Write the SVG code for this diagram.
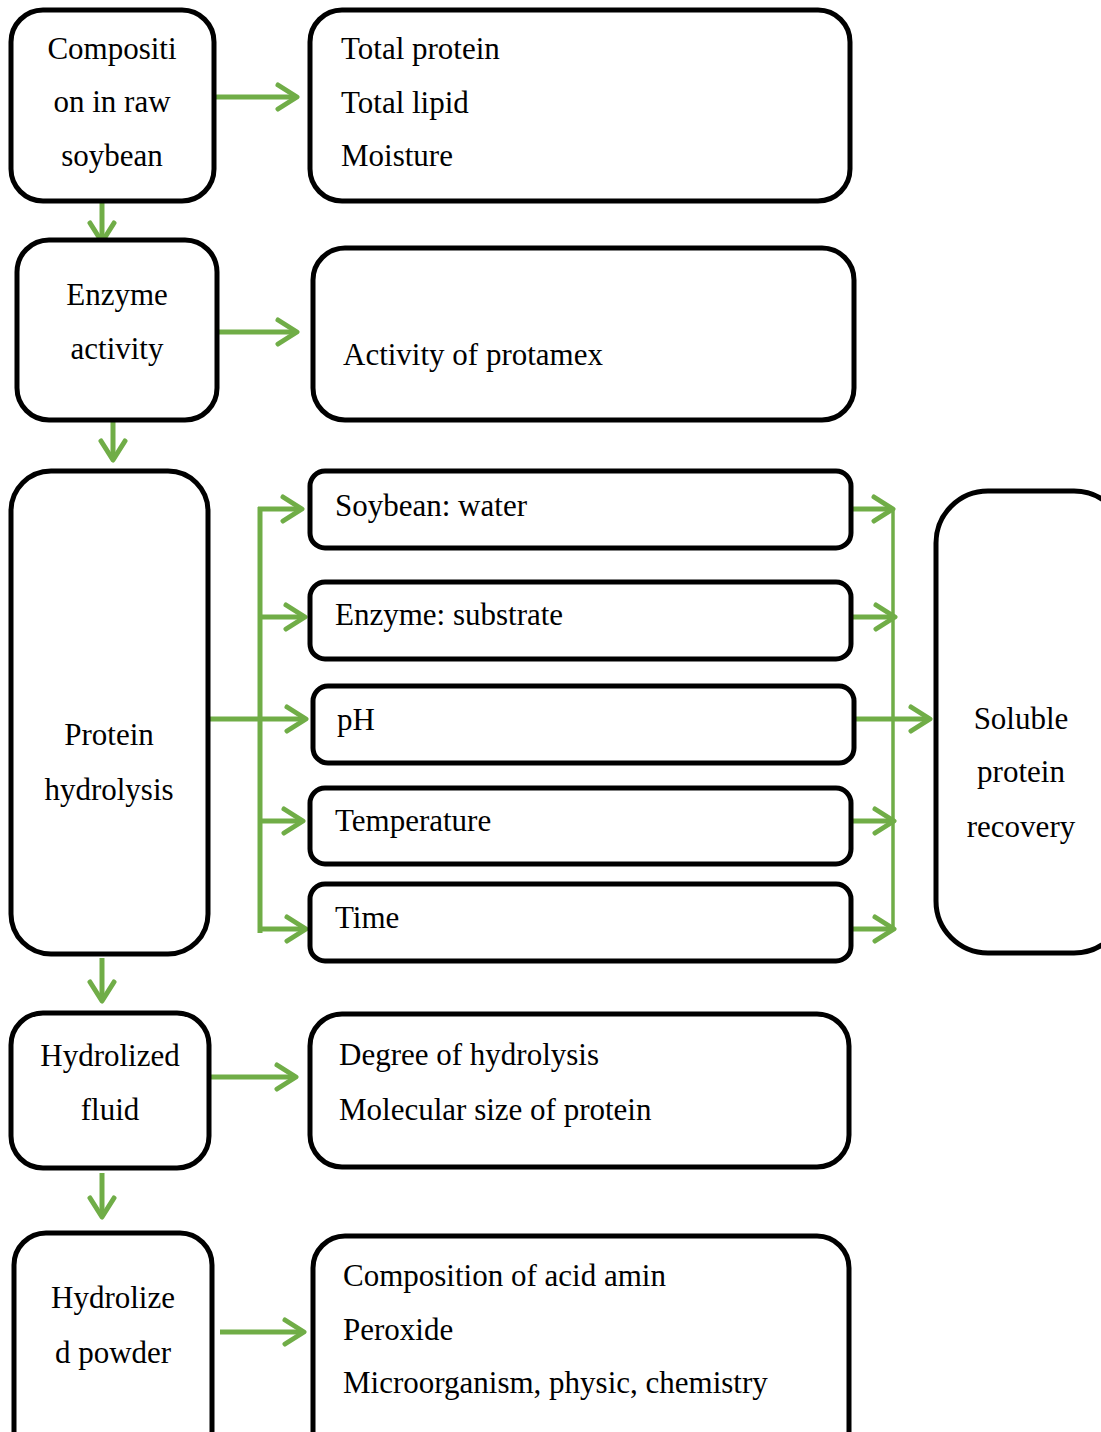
<svg xmlns="http://www.w3.org/2000/svg" width="1101" height="1432" viewBox="0 0 1101 1432">
<style>
.box{fill:#fff;stroke:#000;stroke-width:5}
.t{font-family:"Liberation Serif","Times New Roman",serif;font-size:31px;fill:#000}
.c{text-anchor:middle}
.ln{stroke:#70AD47;stroke-width:5;fill:none}
.thin{stroke:#70AD47;stroke-width:3.5;fill:none}
.ar{stroke:#70AD47;stroke-width:5;fill:none;marker-end:url(#ah)}
</style>
<defs>
<marker id="ah" markerUnits="userSpaceOnUse" viewBox="-24 -16 28 32" refX="0" refY="0" markerWidth="28" markerHeight="32" orient="auto">
<path d="M-19,-12 L0,0 L-19,12" fill="none" stroke="#70AD47" stroke-width="5" stroke-linecap="round" stroke-linejoin="round"/>
</marker>
</defs>
<rect width="1101" height="1432" fill="#fff"/>
<g id="connectors">
<line class="ar" x1="214" y1="97" x2="297" y2="97"/>
<line class="ar" x1="102" y1="201" x2="102" y2="242"/>
<line class="ar" x1="217" y1="332" x2="297" y2="332"/>
<line class="ar" x1="113" y1="420" x2="113" y2="460"/>
<line class="ar" x1="208" y1="719" x2="306" y2="719"/>
<line class="ln" x1="260" y1="507" x2="260" y2="933"/>
<line class="ar" x1="258" y1="509" x2="302" y2="509"/>
<line class="ar" x1="260" y1="617" x2="305" y2="617"/>
<line class="ar" x1="260" y1="821" x2="303" y2="821"/>
<line class="ar" x1="258" y1="929" x2="306" y2="929"/>
<line class="ln" x1="851" y1="509" x2="892" y2="509"/>
<line class="ln" x1="851" y1="617" x2="895" y2="617"/>
<line class="ln" x1="851" y1="821" x2="894" y2="821"/>
<line class="ln" x1="851" y1="929" x2="894" y2="929"/>
<line class="ar" x1="854" y1="719" x2="930" y2="719"/>
<line class="thin" x1="893" y1="509" x2="893" y2="929"/>
<line class="ar" x1="102" y1="958" x2="102" y2="1001"/>
<line class="ar" x1="209" y1="1077" x2="296" y2="1077"/>
<line class="ar" x1="102" y1="1173" x2="102" y2="1217"/>
<line class="ar" x1="220" y1="1332" x2="304" y2="1332"/>
<g id="right-heads" fill="none" stroke="#70AD47" stroke-width="5" stroke-linecap="round" stroke-linejoin="round">
<path d="M874,497 L893,509 L874,521"/>
<path d="M876,605 L895,617 L876,629"/>
<path d="M875,809 L894,821 L875,833"/>
<path d="M875,917 L894,929 L875,941"/>
</g>
</g>
<g id="n1"><rect class="box" x="11" y="10" width="203" height="191" rx="32"/>
<text class="t c" x="112" y="59">Compositi</text><text class="t c" x="112" y="112">on in raw</text><text class="t c" x="112" y="166">soybean</text></g>
<g id="n2"><rect class="box" x="310" y="10" width="540" height="191" rx="32"/>
<text class="t" x="341" y="59">Total protein</text><text class="t" x="341" y="113">Total lipid</text><text class="t" x="341" y="166">Moisture</text></g>
<g id="n3"><rect class="box" x="17" y="240" width="200" height="180" rx="32"/>
<text class="t c" x="117" y="305">Enzyme</text><text class="t c" x="117" y="359">activity</text></g>
<g id="n4"><rect class="box" x="313" y="248" width="541" height="172" rx="32"/>
<text class="t" x="343" y="365">Activity of protamex</text></g>
<g id="n5"><rect class="box" x="11" y="471" width="197" height="483" rx="40"/>
<text class="t c" x="109" y="745">Protein</text><text class="t c" x="109" y="800">hydrolysis</text></g>
<g id="n6"><rect class="box" x="310" y="471" width="541" height="77" rx="15"/>
<text class="t" x="335" y="516">Soybean: water</text></g>
<g id="n7"><rect class="box" x="310" y="582" width="541" height="77" rx="15"/>
<text class="t" x="335" y="625">Enzyme: substrate</text></g>
<g id="n8"><rect class="box" x="313" y="686" width="541" height="77" rx="15"/>
<text class="t" x="337" y="730">pH</text></g>
<g id="n9"><rect class="box" x="310" y="788" width="541" height="76" rx="15"/>
<text class="t" x="335" y="831">Temperature</text></g>
<g id="n10"><rect class="box" x="310" y="884" width="541" height="77" rx="15"/>
<text class="t" x="335" y="928">Time</text></g>
<g id="n11"><rect class="box" x="936" y="491" width="190" height="462" rx="52"/>
<text class="t c" x="1021" y="729">Soluble</text><text class="t c" x="1021" y="782">protein</text><text class="t c" x="1021" y="837">recovery</text></g>
<g id="n12"><rect class="box" x="11" y="1013" width="198" height="155" rx="32"/>
<text class="t c" x="110" y="1066">Hydrolized</text><text class="t c" x="110" y="1120">fluid</text></g>
<g id="n13"><rect class="box" x="310" y="1014" width="539" height="153" rx="32"/>
<text class="t" x="339" y="1065">Degree of hydrolysis</text><text class="t" x="339" y="1120">Molecular size of protein</text></g>
<g id="n14"><rect class="box" x="14" y="1233" width="198" height="230" rx="32"/>
<text class="t c" x="113" y="1308">Hydrolize</text><text class="t c" x="113" y="1363">d powder</text></g>
<g id="n15"><rect class="box" x="313" y="1236" width="536" height="227" rx="32"/>
<text class="t" x="343" y="1286">Composition of acid amin</text><text class="t" x="343" y="1340">Peroxide</text><text class="t" x="343" y="1393">Microorganism, physic, chemistry</text></g>
</svg>
